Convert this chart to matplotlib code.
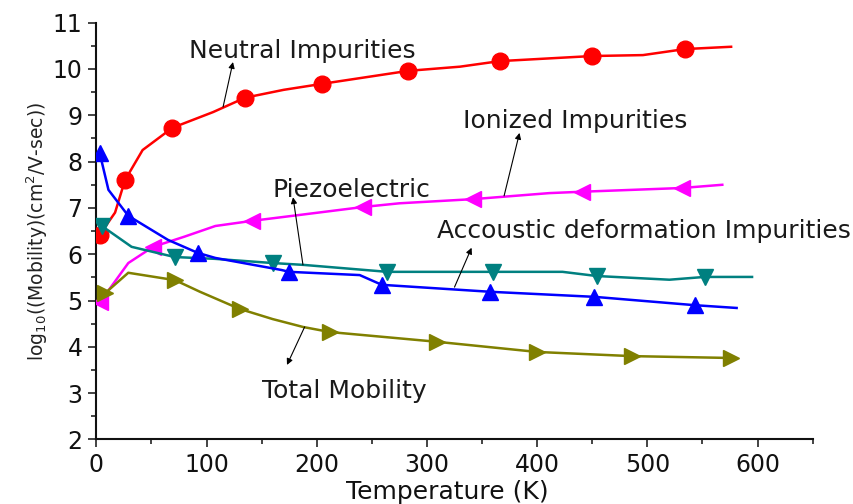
import matplotlib
matplotlib.use("Agg")
import matplotlib.pyplot as plt
from matplotlib.ticker import MultipleLocator

# Mobility components of the sample versus temperature (log10 scale)
temp_neutral = [3, 17, 26, 42, 69, 106, 135, 170, 205, 283, 330, 366, 450, 496, 534, 576]
mob_neutral = [6.42, 6.90, 7.60, 8.25, 8.73, 9.07, 9.38, 9.55, 9.68, 9.96, 10.05, 10.17, 10.28, 10.30, 10.43, 10.48]
mark_neutral = [0, 2, 4, 6, 8, 9, 11, 12, 14]

temp_ionized = [3.5, 29, 51.5, 80, 108, 141, 185, 242, 275, 342, 411, 441, 531, 568]
mob_ionized = [4.97, 5.81, 6.16, 6.38, 6.61, 6.72, 6.85, 7.02, 7.10, 7.19, 7.32, 7.35, 7.43, 7.50]
mark_ionized = [0, 2, 5, 7, 9, 11, 12]

temp_piezo = [5, 32, 71, 108, 160, 188, 264, 360, 423, 454, 520, 552, 595]
mob_piezo = [6.61, 6.16, 5.94, 5.90, 5.81, 5.77, 5.62, 5.62, 5.62, 5.53, 5.45, 5.51, 5.51]
mark_piezo = [0, 2, 4, 6, 7, 9, 11]

temp_acoustic = [3, 11, 29, 65, 92, 108, 168, 175, 239, 259, 357, 452, 543, 581]
mob_acoustic = [8.19, 7.39, 6.83, 6.31, 6.03, 5.92, 5.66, 5.62, 5.55, 5.34, 5.19, 5.08, 4.90, 4.84]
mark_acoustic = [0, 2, 4, 7, 9, 10, 11, 12]

temp_total = [8, 29, 71.5, 94, 130, 160, 187.5, 212, 309, 400, 486, 576]
mob_total = [5.16, 5.60, 5.44, 5.19, 4.82, 4.60, 4.43, 4.32, 4.11, 3.89, 3.80, 3.76]
mark_total = [0, 2, 4, 7, 8, 9, 10, 11]

# Label text, its baseline anchor and the arrow (tail on curve -> head at label)
labels = ["Neutral Impurities", "Ionized Impurities", "Piezoelectric",
          "Accoustic deformation Impurities", "Total Mobility"]
label_pos = [(84, 10.24), (332.5, 8.73), (160, 7.24), (309, 6.35), (150, 2.90)]
arrow_tail = [(115, 9.18), (370, 7.26), (187.5, 5.77), (325, 5.29), (189, 4.43)]
arrow_head = [(124, 10.15), (384, 8.62), (178.5, 7.23), (340.5, 6.14), (173, 3.61)]

plt.rcParams['font.family'] = ['DejaVu Sans']
plt.rcParams['mathtext.fontset'] = 'dejavusans'

fig = plt.figure(figsize=(8.54, 5.04), dpi=100)
ax = fig.add_axes([0.1128, 0.128, 0.8388, 0.827])

lw = 1.8
ms = 12
ax.plot(temp_neutral, mob_neutral, color='#ff0000', lw=lw, marker='o', ms=ms,
        markevery=mark_neutral, zorder=3)
ax.plot(temp_ionized, mob_ionized, color='#ff00ff', lw=lw, marker='<', ms=ms,
        markevery=mark_ionized, zorder=3)
ax.plot(temp_piezo, mob_piezo, color='#008080', lw=lw, marker='v', ms=ms,
        markevery=mark_piezo, zorder=4)
ax.plot(temp_acoustic, mob_acoustic, color='#0000ff', lw=lw, marker='^', ms=ms,
        markevery=mark_acoustic, zorder=4)
ax.plot(temp_total, mob_total, color='#808000', lw=lw, marker='>', ms=ms,
        markevery=mark_total, zorder=5)

for txt, pos, tail, head in zip(labels, label_pos, arrow_tail, arrow_head):
    ax.text(pos[0], pos[1], txt, fontsize=18, color='#1a1a1a',
            ha='left', va='baseline', zorder=6)
    ax.annotate('', xy=head, xytext=tail,
                arrowprops=dict(arrowstyle='-|>', color='black', lw=0.8,
                                mutation_scale=9, shrinkA=0, shrinkB=0),
                zorder=6)

ax.set_xlim(0, 650)
ax.set_ylim(2, 11)
ax.xaxis.set_minor_locator(MultipleLocator(50))
ax.yaxis.set_major_locator(MultipleLocator(1))
ax.yaxis.set_minor_locator(MultipleLocator(0.5))
ax.set_xticks([0, 100, 200, 300, 400, 500, 600])

for side in ('top', 'right'):
    ax.spines[side].set_visible(False)
for side in ('left', 'bottom'):
    ax.spines[side].set_linewidth(1.5)
    ax.spines[side].set_color('#111111')

ax.tick_params(which='major', direction='out', length=6, width=1.1,
               labelsize=17, colors='#111111', pad=4)
ax.tick_params(which='minor', direction='out', length=3.5, width=1.1,
               colors='#111111')

ax.set_xlabel('Temperature (K)', fontsize=18, color='#111111')
ax.xaxis.set_label_coords(0.49, -0.097)
ax.xaxis.label.set_va('top')
ax.set_ylabel(r'log$_{10}$((Mobility)(cm$^{2}$/V-sec))', fontsize=13.5, color='#222222')
ax.yaxis.set_label_coords(-0.0646, 0.5)

fig.savefig('out.png', dpi=100)
